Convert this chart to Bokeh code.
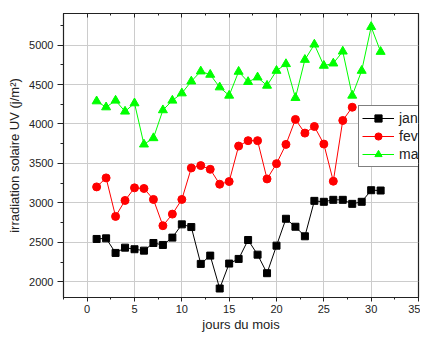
from bokeh.plotting import figure
from bokeh.models import LinearAxis, Range1d, Legend, LegendItem, SingleIntervalTicker
from bokeh.embed import file_html
from bokeh.resources import INLINE

jours = list(range(1, 32))
jan = [2542, 2550, 2365, 2432, 2412, 2394, 2491, 2466, 2559, 2727, 2693, 2226, 2331,
       1914, 2230, 2289, 2529, 2343, 2108, 2457, 2798, 2697, 2576, 3025, 3013, 3038,
       3038, 2987, 3013, 3160, 3156]
jours_fev = list(range(1, 29))
fev = [3202, 3316, 2828, 3030, 3190, 3182, 3043, 2710, 2857, 3043, 3442, 3472, 3425,
       3236, 3270, 3720, 3788, 3788, 3303, 3497, 3741, 4057, 3884, 3968, 3745, 3274,
       4044, 4212]
mars = [4288, 4212, 4297, 4158, 4263, 3741, 3821, 4175, 4297, 4389, 4540, 4667, 4625,
        4465, 4360, 4663, 4533, 4591, 4486, 4675, 4760, 4331, 4814, 5008, 4739, 4768,
        4919, 4360, 4675, 5231, 4915]

FONT = "Liberation Sans"

p = figure(width=420, height=334, output_backend="svg", toolbar_location=None,
           x_range=Range1d(-2.5, 35), y_range=Range1d(1800, 5400),
           min_border_left=63, min_border_right=2, min_border_top=13, min_border_bottom=36)

p.outline_line_color = "#222222"
p.outline_line_width = 1.2
p.background_fill_color = "white"
p.border_fill_color = "white"

p.xaxis.ticker = SingleIntervalTicker(interval=5, num_minor_ticks=2)
p.yaxis.ticker = SingleIntervalTicker(interval=500, num_minor_ticks=2)
p.xgrid.ticker = p.xaxis.ticker
p.ygrid.ticker = p.yaxis.ticker
p.grid.grid_line_color = "#cccccc"
p.grid.grid_line_width = 1

for ax in (p.xaxis[0], p.yaxis[0]):
    ax.axis_line_color = "#222222"
    ax.major_tick_line_color = "#222222"
    ax.minor_tick_line_color = "#222222"
    ax.major_tick_in = 0
    ax.minor_tick_in = 0
    ax.major_label_text_font = FONT
    ax.major_label_text_font_size = "11px"
    ax.major_label_text_color = "#222222"
    ax.axis_label_text_font = FONT
    ax.axis_label_text_font_size = "13px"
    ax.axis_label_text_font_style = "normal"
    ax.axis_label_text_color = "#222222"

p.yaxis.major_tick_out = 6
p.yaxis.minor_tick_out = 3
p.xaxis.major_tick_out = 4
p.xaxis.minor_tick_out = 2

p.xaxis.axis_label = "jours du mois"
p.yaxis.axis_label = "irradiation solaire UV (j/m²)"
p.xaxis.major_label_standoff = 3
p.yaxis.major_label_standoff = 4
p.xaxis.axis_label_standoff = 1
p.yaxis.axis_label_standoff = 4

top = LinearAxis(ticker=SingleIntervalTicker(interval=5, num_minor_ticks=2))
top.major_label_text_font_size = "0px"
top.major_label_standoff = 0
top.axis_label_standoff = 0
top.axis_line_color = "#222222"
top.major_tick_line_color = "#222222"
top.minor_tick_line_color = "#222222"
top.major_tick_in = 4
top.major_tick_out = 0
top.minor_tick_in = 2
top.minor_tick_out = 0
p.add_layout(top, "above")

l1 = p.line(jours, jan, color="black", line_width=1)
m1 = p.scatter(jours, jan, marker="square", size=7, color="black")
l2 = p.line(jours_fev, fev, color="#ff0000", line_width=1)
m2 = p.scatter(jours_fev, fev, marker="circle", size=8, color="#ff0000")
l3 = p.line(jours, mars, color="#00ff00", line_width=1)
m3 = p.scatter(jours, mars, marker="triangle", size=9, color="#00ff00")

legend = Legend(items=[LegendItem(label="jan", renderers=[l1, m1]),
                       LegendItem(label="fev", renderers=[l2, m2]),
                       LegendItem(label="mars", renderers=[l3, m3])],
                location=(295, 130))
legend.label_text_font = FONT
legend.label_text_font_size = "14px"
legend.label_text_color = "#222222"
legend.glyph_width = 32
legend.glyph_height = 18
legend.label_height = 18
legend.spacing = 0
legend.padding = 3
legend.margin = 0
legend.label_standoff = 5
legend.border_line_color = "black"
legend.border_line_width = 1
legend.background_fill_alpha = 1
p.add_layout(legend, "center")

open("out.html", "w").write(file_html(p, INLINE))
